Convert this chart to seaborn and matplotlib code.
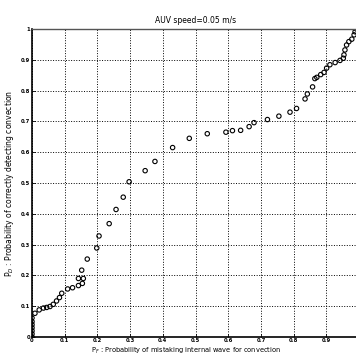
import matplotlib
matplotlib.use("Agg")
import matplotlib.pyplot as plt
import seaborn as sns
import pandas as pd

pf = [0.0, 0.0, 0.0, 0.0, 0.0, 0.0, 0.0, 0.009, 0.022, 0.035, 0.045, 0.055, 0.065,
      0.075, 0.084, 0.091, 0.109, 0.124, 0.142, 0.154, 0.142, 0.157, 0.152, 0.169,
      0.198, 0.205, 0.236, 0.257, 0.279, 0.297, 0.346, 0.376, 0.43, 0.481, 0.536,
      0.593, 0.613, 0.638, 0.664, 0.679, 0.72, 0.755, 0.789, 0.809, 0.835, 0.842,
      0.858, 0.865, 0.871, 0.883, 0.893, 0.901, 0.911, 0.927, 0.942, 0.952, 0.954,
      0.957, 0.962, 0.969, 0.978, 0.985, 0.988, 0.992]
pd_ = [0.0, 0.01, 0.02, 0.03, 0.04, 0.05, 0.062, 0.077, 0.088, 0.094, 0.096, 0.099, 0.106,
       0.117, 0.128, 0.142, 0.156, 0.16, 0.167, 0.174, 0.19, 0.19, 0.217, 0.253,
       0.289, 0.328, 0.368, 0.414, 0.454, 0.504, 0.54, 0.57, 0.615, 0.645, 0.66,
       0.665, 0.67, 0.671, 0.683, 0.696, 0.706, 0.717, 0.73, 0.742, 0.773, 0.789,
       0.812, 0.839, 0.843, 0.852, 0.859, 0.873, 0.884, 0.891, 0.898, 0.905, 0.916,
       0.932, 0.948, 0.959, 0.967, 0.981, 0.991, 1.0]
ticks = [0, 0.1, 0.2, 0.3, 0.4, 0.5, 0.6, 0.7, 0.8, 0.9]
tick_labels = ["0", "0.1", "0.2", "0.3", "0.4", "0.5", "0.6", "0.7", "0.8", "0.9"]
title = "AUV speed=0.05 m/s"
xlabel = r"P$_F$ : Probability of mistaking internal wave for convection"
ylabel = r"P$_D$ : Probability of correctly detecting convection"

df = pd.DataFrame({"pf": pf, "pd": pd_})

fig = plt.figure(figsize=(3.56, 3.54), dpi=100)
ax = fig.add_axes([32/356, 1-337/354, (359-32)/356, (337-29)/354])
sns.scatterplot(data=df, x="pf", y="pd", ax=ax, marker="o", s=10,
                facecolors="none", edgecolor="black", linewidth=0.8)
ax.set_xlim(0, 1)
ax.set_ylim(0, 1)
ax.set_xticks(ticks)
ax.set_xticklabels(tick_labels, fontsize=3.8, fontweight="bold")
ax.set_yticks(ticks + [1.0])
ax.set_yticklabels(tick_labels + ["1"], fontsize=3.8, fontweight="bold")
ax.tick_params(axis="x", length=2, width=0.6, pad=0.8, direction="in")
ax.tick_params(axis="y", length=2, width=0.6, pad=1.5, direction="in")
ax.grid(True, color="black", linestyle=":", linewidth=0.7)
for s in ["left", "bottom"]:
    ax.spines[s].set_linewidth(1.2)
ax.spines["top"].set_linewidth(1.0)
ax.spines["top"].set_color("#555555")
ax.set_title(title, fontsize=5.5, pad=4)
ax.set_xlabel(xlabel, fontsize=4.8)
ax.xaxis.set_label_coords(0.47, -0.027)
ax.set_ylabel(ylabel, fontsize=5.5, labelpad=3)
fig.savefig("out.png", dpi=100)
